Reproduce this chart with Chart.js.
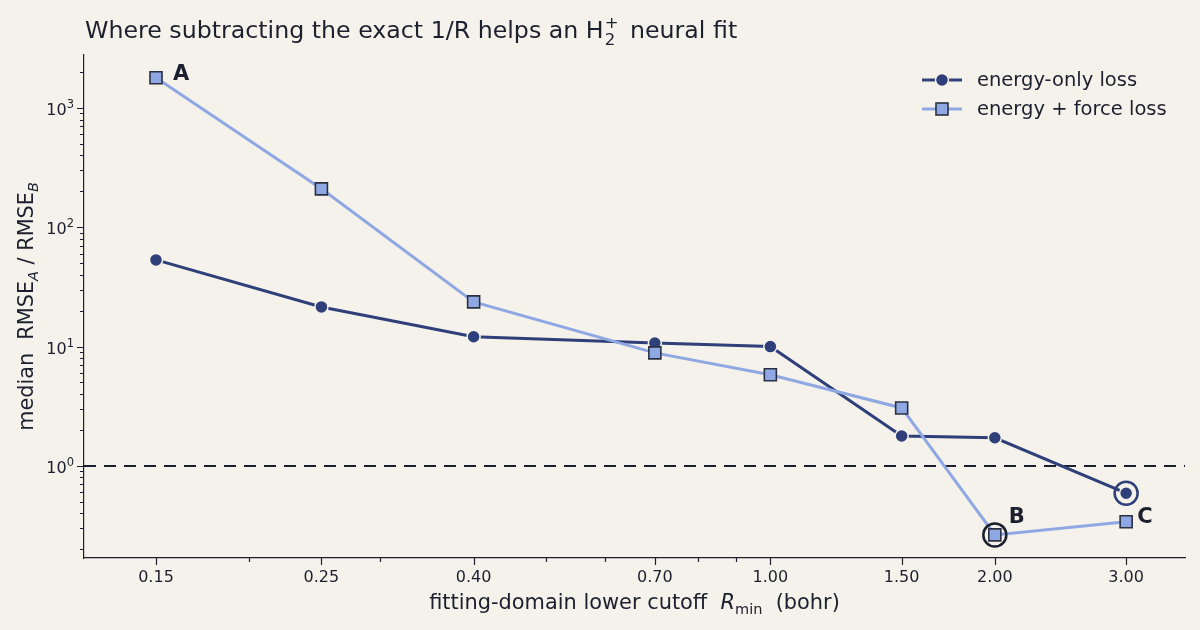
<!DOCTYPE html>
<html lang="en">
<head>
    <meta charset="UTF-8">
    <title>H2+ neural fit cutoff comparison</title>
    <script src="https://cdn.jsdelivr.net/npm/chart.js"></script>
    <style>
        html, body { margin: 0; padding: 0; background: #f4f2ea; }
        canvas { display: block; }
    </style>
</head>
<body>
    <canvas id="chart" width="1200" height="630"></canvas>
    <script>
        // data
        const cutoffs = [0.15, 0.25, 0.40, 0.70, 1.00, 1.50, 2.00, 3.00];
        const cutoffLabels = ['0.15', '0.25', '0.40', '0.70', '1.00', '1.50', '2.00', '3.00'];
        const minorCutoffs = [0.2, 0.3, 0.5, 0.6, 0.8, 0.9];
        const energyOnly = [53.3, 21.5, 12.1, 10.7, 10.0, 1.78, 1.72, 0.59];
        const energyForce = [1790, 210, 23.7, 8.85, 5.8, 3.06, 0.264, 0.34];
        const yDecades = [1, 10, 100, 1000];
        const yExponents = ['0', '1', '2', '3'];
        const seriesNames = ['energy-only loss', 'energy + force loss'];
        // annotations: [label, series, index]
        const markers = [['A', 'force', 0], ['B', 'force', 6], ['C', 'force', 7]];
        const rings = [['force', 6], ['energy', 7]];

        const BG = '#f4f2ea';
        const INK = '#1c1f2e';
        const DARK = '#2e3f7a';
        const LIGHT = '#8fa8e3';
        const FONT = '"DejaVu Sans", sans-serif';

        let yTicks = [];
        for (let d = -1; d <= 3; d++) {
            for (let m = 1; m <= 9; m++) {
                let v = m * Math.pow(10, d);
                if (v >= 0.17 && v <= 2780) yTicks.push(v);
            }
        }

        function pts(arr) {
            return cutoffs.map((x, i) => ({ x: x, y: arr[i] }));
        }

        function drawText(ctx, parts, x, y) {
            // parts: [text, size, italic, dy]
            let cx = x;
            parts.forEach(p => {
                ctx.font = (p[2] ? 'italic ' : '') + p[1] + 'px ' + FONT;
                ctx.fillText(p[0], cx, y + (p[3] || 0));
                cx += ctx.measureText(p[0]).width;
            });
            return cx - x;
        }

        function widthOf(ctx, parts) {
            let w = 0;
            parts.forEach(p => {
                ctx.font = (p[2] ? 'italic ' : '') + p[1] + 'px ' + FONT;
                w += ctx.measureText(p[0]).width;
            });
            return w;
        }

        const decorations = {
            id: 'decorations',
            beforeDatasetsDraw(chart) {
                const ctx = chart.ctx;
                const a = chart.chartArea;
                const yPix = chart.scales.y.getPixelForValue(1);
                ctx.save();
                ctx.strokeStyle = INK;
                ctx.lineWidth = 2;
                ctx.setLineDash([12, 8]);
                ctx.beginPath();
                ctx.moveTo(a.left, yPix);
                ctx.lineTo(a.right, yPix);
                ctx.stroke();
                ctx.restore();
            },
            afterDraw(chart) {
                const ctx = chart.ctx;
                const xs = chart.scales.x;
                const ys = chart.scales.y;
                const a = chart.chartArea;
                ctx.save();
                ctx.strokeStyle = INK;
                ctx.lineWidth = 1.2;

                // tick marks
                ctx.beginPath();
                yTicks.forEach(v => {
                    const len = yDecades.includes(v) ? 7 : 4;
                    const p = Math.round(ys.getPixelForValue(v)) + 0.5;
                    ctx.moveTo(a.left, p);
                    ctx.lineTo(a.left - len, p);
                });
                cutoffs.forEach(v => {
                    const p = Math.round(xs.getPixelForValue(v)) + 0.5;
                    ctx.moveTo(p, a.bottom);
                    ctx.lineTo(p, a.bottom + 7);
                });
                minorCutoffs.forEach(v => {
                    const p = Math.round(xs.getPixelForValue(v)) + 0.5;
                    ctx.moveTo(p, a.bottom);
                    ctx.lineTo(p, a.bottom + 4);
                });
                ctx.stroke();

                // y decade labels with raised exponent
                ctx.fillStyle = INK;
                ctx.textBaseline = 'alphabetic';
                ctx.textAlign = 'left';
                yDecades.forEach((v, i) => {
                    const py = ys.getPixelForValue(v);
                    const parts = [['10', 16, false], [yExponents[i], 11.5, false, -7]];
                    const w = widthOf(ctx, parts);
                    drawText(ctx, parts, a.left - 10 - w, py + 7);
                });

                // rings
                ctx.lineWidth = 2.5;
                rings.forEach(r => {
                    const arr = r[0] === 'force' ? energyForce : energyOnly;
                    const px = xs.getPixelForValue(cutoffs[r[1]]);
                    const py = ys.getPixelForValue(arr[r[1]]);
                    ctx.strokeStyle = r[0] === 'force' ? INK : DARK;
                    ctx.beginPath();
                    ctx.arc(px, py, 11.5, 0, Math.PI * 2);
                    ctx.stroke();
                });

                // letter labels
                ctx.fillStyle = INK;
                ctx.font = 'bold 21px ' + FONT;
                ctx.textBaseline = 'middle';
                const offs = { A: [17, -3], B: [14, -17], C: [11, -4] };
                markers.forEach(m => {
                    const arr = m[1] === 'force' ? energyForce : energyOnly;
                    const px = xs.getPixelForValue(cutoffs[m[2]]);
                    const py = ys.getPixelForValue(arr[m[2]]);
                    ctx.fillText(m[0], px + offs[m[0]][0], py + offs[m[0]][1]);
                });

                // legend
                const rows = [[seriesNames[0], DARK, 'circle', 80], [seriesNames[1], LIGHT, 'rect', 109]];
                rows.forEach(r => {
                    ctx.strokeStyle = r[1];
                    ctx.lineWidth = 3;
                    ctx.beginPath();
                    ctx.moveTo(922, r[3]);
                    ctx.lineTo(962, r[3]);
                    ctx.stroke();
                    if (r[2] === 'circle') {
                        ctx.fillStyle = DARK;
                        ctx.strokeStyle = BG;
                        ctx.lineWidth = 1.5;
                        ctx.beginPath();
                        ctx.arc(942, r[3], 6.5, 0, Math.PI * 2);
                        ctx.fill();
                        ctx.stroke();
                    } else {
                        ctx.fillStyle = LIGHT;
                        ctx.strokeStyle = '#2a3040';
                        ctx.lineWidth = 1.6;
                        ctx.fillRect(936, r[3] - 6, 12, 12);
                        ctx.strokeRect(936, r[3] - 6, 12, 12);
                    }
                    ctx.fillStyle = INK;
                    ctx.font = '19.5px ' + FONT;
                    ctx.textBaseline = 'middle';
                    ctx.fillText(r[0], 977, r[3] + 1);
                });

                // title
                ctx.textBaseline = 'alphabetic';
                ctx.fillStyle = INK;
                let tx = 85;
                ctx.font = '23.7px ' + FONT;
                const t1 = 'Where subtracting the exact 1/R helps an H';
                ctx.fillText(t1, tx, 38);
                tx += ctx.measureText(t1).width;
                ctx.font = '16.5px ' + FONT;
                ctx.fillText('2', tx + 1, 45);
                ctx.fillText('+', tx + 1, 28);
                tx += ctx.measureText('+').width + 5;
                ctx.font = '23.7px ' + FONT;
                ctx.fillText(' neural fit', tx, 38);

                // x axis title
                const xParts = [['fitting-domain lower cutoff  ', 20.9, false], ['R', 20.9, true], ['min', 14.5, false, 5], ['  (bohr)', 20.9, false]];
                const xw = widthOf(ctx, xParts);
                drawText(ctx, xParts, (a.left + a.right) / 2 - xw / 2, 609);

                // y axis title
                const yParts = [['median  RMSE', 20.8, false], ['A', 14.5, true, 5], [' / RMSE', 20.8, false], ['B', 14.5, true, 5]];
                const yw = widthOf(ctx, yParts);
                ctx.translate(33, (a.top + a.bottom) / 2);
                ctx.rotate(-Math.PI / 2);
                drawText(ctx, yParts, -yw / 2, 0);
                ctx.restore();
            }
        };

        new Chart(document.getElementById('chart'), {
            type: 'line',
            data: {
                datasets: [{
                    label: seriesNames[0],
                    data: pts(energyOnly),
                    borderColor: DARK,
                    borderWidth: 3,
                    pointStyle: 'circle',
                    pointRadius: 6.5,
                    pointBackgroundColor: DARK,
                    pointBorderColor: BG,
                    pointBorderWidth: 1.5,
                    order: 1
                }, {
                    label: seriesNames[1],
                    data: pts(energyForce),
                    borderColor: LIGHT,
                    borderWidth: 3,
                    pointStyle: 'rect',
                    pointRadius: 8.5,
                    pointBackgroundColor: LIGHT,
                    pointBorderColor: '#2a3040',
                    pointBorderWidth: 1.6,
                    order: 0
                }]
            },
            options: {
                responsive: false,
                animation: false,
                layout: { padding: { top: 55, right: 15, left: 0, bottom: 0 } },
                plugins: {
                    legend: { display: false },
                    tooltip: { enabled: false }
                },
                scales: {
                    x: {
                        type: 'logarithmic',
                        min: 0.1201,
                        max: 3.598,
                        afterFit(scale) { scale.height = 72; },
                        afterBuildTicks(scale) {
                            scale.ticks = cutoffs.map(v => ({ value: v }));
                        },
                        grid: { display: false, drawTicks: false },
                        border: { display: true, color: INK, width: 1.2 },
                        ticks: {
                            autoSkip: false,
                            maxRotation: 0,
                            padding: 10,
                            color: INK,
                            font: { family: FONT, size: 16 },
                            callback: (v) => {
                                const i = cutoffs.indexOf(v);
                                return i >= 0 ? cutoffLabels[i] : '';
                            }
                        }
                    },
                    y: {
                        type: 'logarithmic',
                        min: 0.169,
                        max: 2780,
                        afterFit(scale) { scale.width = 84; },
                        afterBuildTicks(scale) {
                            scale.ticks = yTicks.map(v => ({ value: v }));
                        },
                        grid: { display: false, drawTicks: false },
                        border: { display: true, color: INK, width: 1.2 },
                        ticks: {
                            autoSkip: false,
                            padding: 10,
                            color: INK,
                            font: { family: FONT, size: 16 },
                            // decade labels are drawn with raised exponents in the plugin
                            callback: () => ''
                        }
                    }
                }
            },
            plugins: [decorations]
        });
    </script>
</body>
</html>
